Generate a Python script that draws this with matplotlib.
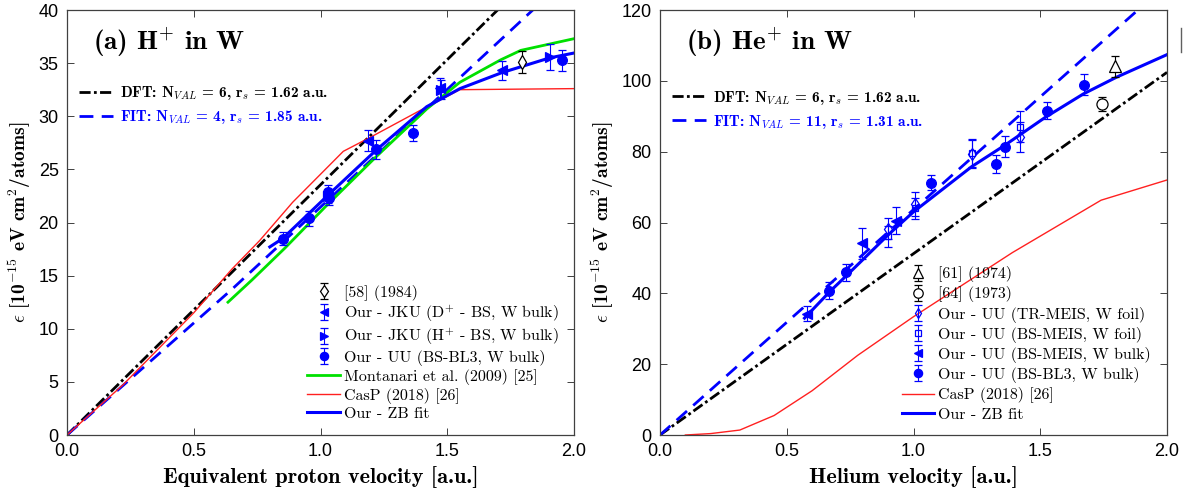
import numpy as np
import matplotlib
matplotlib.use('Agg')
import matplotlib.pyplot as plt
from matplotlib.lines import Line2D

plt.rcParams['font.family'] = ['Liberation Sans', 'DejaVu Sans']
plt.rcParams['mathtext.fontset'] = 'cm'

# ---------------- (a) H+ in W ----------------
a_dft_x = [0.0, 2.0]
a_dft_y = [0.0, 47.1]
a_fit_x = [0.0, 0.65, 2.0]
a_fit_y = [0.0, 13.7, 43.6]
a_zb_x = [0.80, 0.851, 1.031, 1.219, 1.419, 1.55, 1.715, 1.905, 2.0]
a_zb_y = [17.7, 18.5, 22.6, 26.8, 30.9, 32.6, 34.1, 35.5, 35.95]
a_mont_x = [0.635, 0.73, 0.86, 1.02, 1.22, 1.42, 1.55, 1.71, 1.79, 2.0]
a_mont_y = [12.5, 14.6, 17.6, 21.5, 26.2, 30.7, 33.2, 35.3, 36.2, 37.3]
a_casp_x = [0.0, 0.22, 0.5, 0.65, 0.76, 0.89, 1.09, 1.195, 1.405, 1.55, 2.0]
a_casp_y = [0.0, 4.7, 11.5, 15.6, 18.3, 21.9, 26.7, 28.0, 30.7, 32.5, 32.6]

a_58_x = [1.793]
a_58_y = [35.09]
a_58_e = [1.05]
a_jkud_x = [1.189, 1.471, 1.715]
a_jkud_y = [27.69, 32.66, 34.31]
a_jkud_e = [1.0, 0.9, 0.9]
a_jkuh_x = [1.03, 1.475, 1.905]
a_jkuh_y = [22.5, 32.5, 35.56]
a_jkuh_e = [0.7, 0.9, 1.2]
a_bl3_x = [0.851, 0.954, 1.031, 1.034, 1.219, 1.364, 1.951]
a_bl3_y = [18.47, 20.41, 22.84, 22.28, 26.88, 28.44, 35.25]
a_bl3_e = [0.6, 0.7, 0.65, 0.65, 0.9, 0.73, 1.0]

# ---------------- (b) He+ in W ----------------
b_dft_x = [0.0, 2.0]
b_dft_y = [0.0, 102.4]
b_fit_x = [0.0, 2.0]
b_fit_y = [0.0, 127.3]
b_zb_x = [0.57, 0.67, 0.75, 0.9, 1.0, 1.23, 1.36, 1.52, 1.67, 1.8, 2.0]
b_zb_y = [33.0, 40.5, 46.0, 56.5, 63.0, 75.8, 81.8, 89.7, 96.3, 101.0, 107.4]
b_casp_x = [0.1, 0.2, 0.315, 0.45, 0.6, 0.78, 1.0, 1.39, 1.74, 2.0]
b_casp_y = [0.0, 0.4, 1.4, 5.5, 12.5, 22.5, 33.4, 51.5, 66.3, 72.0]

b_61_x = [1.796]
b_61_y = [104.1]
b_61_e = [3.0]
b_64_x = [1.742]
b_64_y = [93.4]
b_64_e = [1.9]
b_tr_x = [0.899, 1.005, 1.232, 1.422]
b_tr_y = [58.3, 65.2, 79.3, 84.2]
b_tr_e = [3.0, 3.3, 4.0, 4.2]
b_bsf_x = [0.899, 1.005, 1.232, 1.422]
b_bsf_y = [56.1, 64.0, 79.7, 87.1]
b_bsf_e = [3.0, 3.0, 4.0, 4.3]
b_bsb_x = [0.58, 0.797, 0.929]
b_bsb_y = [34.3, 54.1, 60.5]
b_bsb_e = [2.0, 4.3, 3.8]
b_bl3_x = [0.666, 0.734, 1.069, 1.327, 1.361, 1.527, 1.671]
b_bl3_y = [40.8, 45.9, 71.2, 76.5, 81.4, 91.5, 98.9]
b_bl3_e = [2.4, 2.5, 2.1, 2.5, 3.0, 2.4, 3.0]

BLUE = '#0000ff'
GREEN = '#00e000'
RED = '#ff2020'

fig = plt.figure(figsize=(11.9, 4.94), dpi=100)
ax1 = fig.add_axes([67/1190, 59/494, 507/1190, 425/494])
ax2 = fig.add_axes([660/1190, 59/494, 507/1190, 425/494])


def style(ax, ymax, ystep, xlabel):
    ax.set_xlim(0, 2)
    ax.set_ylim(0, ymax)
    ax.set_xticks(np.arange(0, 2.01, 0.5))
    ax.set_xticklabels(['0.0', '0.5', '1.0', '1.5', '2.0'])
    ax.set_yticks(np.arange(0, ymax + 0.1, ystep))
    ax.tick_params(direction='in', top=True, right=True, length=5, width=0.7,
                   color='#404040', labelsize=13, pad=6)
    for s in ax.spines.values():
        s.set_color('#404040')
        s.set_linewidth(0.9)
    ax.set_xlabel(xlabel, fontsize=16, labelpad=4, fontfamily='cmb10')
    ax.set_ylabel(r'$\epsilon$ [10$^{-15}$ eV cm$^{2}$/atoms]', fontsize=14,
                  labelpad=4, fontfamily='cmb10')


def ebar(ax, x, y, e, marker, color, face, ms, label):
    return ax.errorbar(x, y, yerr=e, fmt=marker, color=color, mfc=face, mec=color,
                       ms=ms, ecolor=color, elinewidth=0.8, capsize=3, capthick=0.8,
                       mew=0.9, label=label)


def top_legend(ax, handles, labels, y):
    leg = ax.legend(handles, labels, loc='upper left', bbox_to_anchor=(0.024, y),
                    frameon=False, prop={'family': 'cmb10', 'size': 11},
                    handlelength=2.2, handletextpad=0.45, borderpad=0,
                    borderaxespad=0, labelspacing=0.4, labelcolor=['black', BLUE])
    ax.add_artist(leg)


dft_dash = (4, 1.2, 1, 1.2)

# panel (a)
l_dft, = ax1.plot(a_dft_x, a_dft_y, color='black', lw=2, dashes=dft_dash)
l_fit, = ax1.plot(a_fit_x, a_fit_y, color=BLUE, lw=2, dashes=(5, 3))
l_mont, = ax1.plot(a_mont_x, a_mont_y, color=GREEN, lw=2)
l_casp, = ax1.plot(a_casp_x, a_casp_y, color=RED, lw=1)
l_zb, = ax1.plot(a_zb_x, a_zb_y, color=BLUE, lw=2.2)
h58 = ebar(ax1, a_58_x, a_58_y, a_58_e, 'd', 'black', 'white', 7, '[58] (1984)')
hjd = ebar(ax1, a_jkud_x, a_jkud_y, a_jkud_e, '<', BLUE, BLUE, 7, 'D')
hjh = ebar(ax1, a_jkuh_x, a_jkuh_y, a_jkuh_e, '>', BLUE, BLUE, 7, 'H')
hbl = ebar(ax1, a_bl3_x, a_bl3_y, a_bl3_e, 'o', BLUE, BLUE, 7, 'BL3')

style(ax1, 40, 5, 'Equivalent proton velocity [a.u.]')

ax1.text(0.051, 0.922, r'(a) H$^{+}$ in W', transform=ax1.transAxes,
         fontsize=19.5, va='center', ha='left', fontfamily='cmb10')

top_legend(ax1, [l_dft, l_fit],
           [r'DFT: N$_{VAL}$ = 6, r$_{s}$ = 1.62 a.u.',
            r'FIT: N$_{VAL}$ = 4, r$_{s}$ = 1.85 a.u.'], 0.825)
ax1.legend([h58, hjd, hjh, hbl, l_mont, l_casp, l_zb],
           ['[58] (1984)', r'Our - JKU (D$^{+}$ - BS, W bulk)', r'Our - JKU (H$^{+}$ - BS, W bulk)',
            'Our - UU (BS-BL3, W bulk)', 'Montanari et al. (2009) [25]', 'CasP (2018) [26]',
            'Our - ZB fit'],
           loc='upper left', bbox_to_anchor=(0.474, 0.354), frameon=False,
           prop={'family': 'cmr10', 'size': 11.5}, handlelength=2.05, handletextpad=0.25,
           borderpad=0, borderaxespad=0, labelspacing=0.18, markerscale=0.85)

# panel (b)
m_dft, = ax2.plot(b_dft_x, b_dft_y, color='black', lw=2, dashes=dft_dash)
m_fit, = ax2.plot(b_fit_x, b_fit_y, color=BLUE, lw=2, dashes=(5, 3))
m_casp, = ax2.plot(b_casp_x, b_casp_y, color=RED, lw=1)
m_zb, = ax2.plot(b_zb_x, b_zb_y, color=BLUE, lw=2.2)
g61 = ebar(ax2, b_61_x, b_61_y, b_61_e, '^', 'black', 'white', 9, '[61] (1974)')
g64 = ebar(ax2, b_64_x, b_64_y, b_64_e, 'o', 'black', 'white', 8, '[64] (1973)')
gtr = ebar(ax2, b_tr_x, b_tr_y, b_tr_e, 'd', BLUE, 'none', 6, 'TR')
gbf = ebar(ax2, b_bsf_x, b_bsf_y, b_bsf_e, 's', BLUE, 'none', 5, 'BSF')
gbb = ebar(ax2, b_bsb_x, b_bsb_y, b_bsb_e, '<', BLUE, BLUE, 7, 'BSB')
gbl = ebar(ax2, b_bl3_x, b_bl3_y, b_bl3_e, 'o', BLUE, BLUE, 7, 'BL3')

style(ax2, 120, 20, 'Helium velocity [a.u.]')

ax2.text(0.051, 0.922, r'(b) He$^{+}$ in W', transform=ax2.transAxes,
         fontsize=19.5, va='center', ha='left', fontfamily='cmb10')

top_legend(ax2, [m_dft, m_fit],
           [r'DFT: N$_{VAL}$ = 6, r$_{s}$ = 1.62 a.u.',
            r'FIT: N$_{VAL}$ = 11, r$_{s}$ = 1.31 a.u.'], 0.815)
ax2.legend([g61, g64, gtr, gbf, gbb, gbl, m_casp, m_zb],
           ['[61] (1974)', '[64] (1973)', 'Our - UU (TR-MEIS, W foil)', 'Our - UU (BS-MEIS, W foil)',
            'Our - UU (BS-MEIS, W bulk)', 'Our - UU (BS-BL3, W bulk)', 'CasP (2018) [26]',
            'Our - ZB fit'],
           loc='upper left', bbox_to_anchor=(0.4765, 0.397), frameon=False,
           prop={'family': 'cmr10', 'size': 11.5}, handlelength=2.05, handletextpad=0.25,
           borderpad=0, borderaxespad=0, labelspacing=0.26, markerscale=0.85)

# stray mark at the right border of the original figure
fig.add_artist(Line2D([1181/1190, 1181/1190], [1 - 28/494, 1 - 52/494],
                      color='#606060', lw=1))

fig.savefig('out.png', dpi=100)
